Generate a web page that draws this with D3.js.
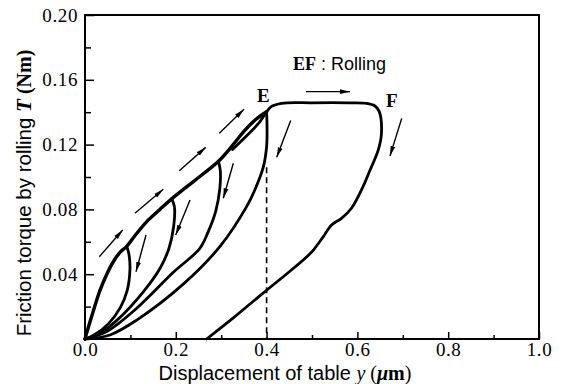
<!DOCTYPE html>
<html><head><meta charset="utf-8">
<script src="https://cdn.jsdelivr.net/npm/d3@7/dist/d3.min.js"></script>
<style>
body{margin:0;background:#fff;}
svg{display:block;}
</style></head>
<body>
<svg id="c" width="566" height="384"></svg>
<script>
// ---- data (x: displacement µm, y: torque Nm) ----
const xTicksMajor = [0.0, 0.2, 0.4, 0.6, 0.8, 1.0];
const xTicksMinor = [0.1, 0.3, 0.5, 0.7, 0.9];
const yTicksMajor = [0.04, 0.08, 0.12, 0.16, 0.20];
const yTicksMinor = [0.02, 0.06, 0.10, 0.14, 0.18];

const envelope = [[0,0],[0.004,0.004],[0.018,0.017],[0.033,0.030],[0.048,0.040],[0.063,0.048],[0.078,0.0538],[0.092,0.0572],
  [0.112,0.0645],[0.136,0.0725],[0.165,0.080],[0.191,0.0865],[0.24,0.0975],[0.294,0.1097],[0.325,0.1195],[0.35,0.1282],[0.376,0.1355],[0.400,0.1403]];
const loop1Down = [[0.092,0.0572],[0.097,0.052],[0.099,0.043],[0.093,0.030],[0.078,0.0195],[0.052,0.0095],[0.02,0.0025],[0,0]];
const loop2Down = [[0.191,0.0865],[0.197,0.0815],[0.195,0.069],[0.185,0.056],[0.166,0.044],[0.128,0.029],[0.07,0.0115],[0.03,0.003],[0,0]];
const loop3Down = [[0.294,0.1097],[0.298,0.104],[0.297,0.093],[0.288,0.079],[0.271,0.066],[0.253,0.056],[0.194,0.041],[0.114,0.019],[0.05,0.005],[0,0]];
const loopEDown = [[0.400,0.1403],[0.401,0.130],[0.400,0.1187],[0.393,0.1064],[0.374,0.092],[0.356,0.0817],[0.297,0.057],[0.217,0.034],[0.114,0.0117],[0.055,0.0025],[0,0]];
const rollingPath = [[0.325,0.117],[0.36,0.1265],[0.385,0.134],[0.400,0.1403],[0.411,0.1436],[0.433,0.1455],[0.50,0.1458],[0.58,0.1458],[0.62,0.1455],
  [0.638,0.1440],[0.648,0.1405],[0.653,0.127],[0.646,0.1167],[0.628,0.1043],[0.609,0.092],[0.587,0.0807],[0.565,0.0745],[0.543,0.0704],
  [0.525,0.0632],[0.503,0.0549],[0.485,0.0498],[0.44,0.0392],[0.393,0.0285],[0.33,0.0138],[0.268,0]];
const dashedLine = [[0.4,0.106],[0.4,0]];
// arrows: [x1,y1,x2,y2] with head at (x2,y2)
const arrows = [
  [0.0315,0.0508,0.083,0.0673],[0.110,0.0776,0.1725,0.0924],[0.2077,0.1039,0.2659,0.1183],[0.2958,0.127,0.3502,0.1418],
  [0.1344,0.0642,0.1123,0.0415],[0.2313,0.0858,0.1998,0.0642],[0.3267,0.1085,0.3046,0.0869],
  [0.4531,0.1348,0.4222,0.1122],[0.6976,0.1362,0.6718,0.113],[0.4868,0.1527,0.5837,0.1527]];
const pointLabels = [["E",0.393,0.1462],["F",0.676,0.1432]];

// ---- layout ----
const svg = d3.select("#c");
const x = d3.scaleLinear().domain([0,1]).range([85,539]);
const y = d3.scaleLinear().domain([0,0.2]).range([339,15]);
const serif = "'Liberation Serif','DejaVu Serif',serif";
const sans = "'Liberation Sans',Arial,sans-serif";

svg.append("defs").append("marker").attr("id","ah")
  .attr("viewBox","0 0 10 6").attr("refX",10).attr("refY",3)
  .attr("markerWidth",10).attr("markerHeight",6).attr("markerUnits","userSpaceOnUse")
  .attr("orient","auto")
  .append("path").attr("d","M0,0.6 L10,3 L0,5.4 Z").attr("fill","#000");

// frame
svg.append("rect").attr("x",x(0)).attr("y",y(0.2)).attr("width",x(1)-x(0)).attr("height",y(0)-y(0.2))
  .attr("fill","none").attr("stroke","#000").attr("stroke-width",2);

// axes
const gy = svg.append("g").attr("transform",`translate(${x(0)},0)`)
  .call(d3.axisLeft(y).tickValues(yTicksMajor).tickSizeInner(-9).tickSizeOuter(0).tickPadding(7).tickFormat(d3.format(".2f")));
const gy2 = svg.append("g").attr("transform",`translate(${x(0)},0)`)
  .call(d3.axisLeft(y).tickValues(yTicksMinor).tickSizeInner(-6).tickSizeOuter(0).tickFormat(""));
const gx = svg.append("g").attr("transform",`translate(0,${y(0)})`)
  .call(d3.axisBottom(x).tickValues(xTicksMajor).tickSizeInner(-7).tickSizeOuter(0).tickPadding(3).tickFormat(d3.format(".1f")));
const gx2 = svg.append("g").attr("transform",`translate(0,${y(0)})`)
  .call(d3.axisBottom(x).tickValues(xTicksMinor).tickSizeInner(-4).tickSizeOuter(0).tickFormat(""));
[gy,gy2,gx,gx2].forEach(g=>{
  g.select(".domain").remove();
  g.selectAll("line").attr("stroke","#000").attr("stroke-width",1.5);
  g.selectAll("text").attr("font-family",serif).attr("font-size",19).attr("letter-spacing",0.6).attr("fill","#000");
});

// curves
const line = d3.line().x(d=>x(d[0])).y(d=>y(d[1])).curve(d3.curveCatmullRom.alpha(0.5));
const curves = [envelope, loop1Down, loop2Down, loop3Down, loopEDown, rollingPath];
svg.append("g").selectAll("path").data(curves).join("path")
  .attr("d",line).attr("fill","none").attr("stroke","#000")
  .attr("stroke-width",(d,i)=> i===0?3.4:2.8).attr("stroke-linejoin","round").attr("stroke-linecap","round");

svg.append("path").attr("d",d3.line().x(d=>x(d[0])).y(d=>y(d[1]))(dashedLine))
  .attr("stroke","#000").attr("stroke-width",1.6).attr("stroke-dasharray","6,4").attr("fill","none");

// arrows
svg.append("g").selectAll("line").data(arrows).join("line")
  .attr("x1",d=>x(d[0])).attr("y1",d=>y(d[1])).attr("x2",d=>x(d[2])).attr("y2",d=>y(d[3]))
  .attr("stroke","#000").attr("stroke-width",1.4).attr("marker-end","url(#ah)");

// point labels
svg.append("g").selectAll("text").data(pointLabels).join("text")
  .attr("x",d=>x(d[1])).attr("y",d=>y(d[2])).attr("text-anchor","middle")
  .attr("font-family",serif).attr("font-weight","bold").attr("font-size",19).text(d=>d[0]);

// EF : Rolling
const ef = svg.append("text").attr("x",293).attr("y",70).attr("font-size",18);
ef.append("tspan").attr("font-family",serif).attr("font-weight","bold").text("EF");
ef.append("tspan").attr("font-family",sans).text(" : Rolling");

// axis titles
const xt = svg.append("text").attr("x",285).attr("y",380).attr("text-anchor","middle").attr("font-size",20);
xt.append("tspan").attr("font-family",sans).text("Displacement of table  ");
xt.append("tspan").attr("font-family",serif).attr("font-style","italic").attr("font-size",20).text("y");
xt.append("tspan").attr("font-family",serif).attr("font-size",20).text(" (");
xt.append("tspan").attr("font-family",serif).attr("font-style","italic").attr("font-weight","bold").attr("font-size",20).text("μ");
xt.append("tspan").attr("font-family",serif).attr("font-weight","bold").attr("font-size",20).text("m");
xt.append("tspan").attr("font-family",serif).attr("font-size",20).text(")");

const yt = svg.append("text").attr("transform","translate(31,193) rotate(-90)").attr("text-anchor","middle").attr("font-size",20.5);
yt.append("tspan").attr("font-family",sans).text("Friction torque by rolling  ");
yt.append("tspan").attr("font-family",serif).attr("font-style","italic").attr("font-weight","bold").attr("font-size",21).text("T");
yt.append("tspan").attr("font-family",serif).attr("font-weight","bold").attr("font-size",20).text(" (Nm)");
</script>
</body></html>
